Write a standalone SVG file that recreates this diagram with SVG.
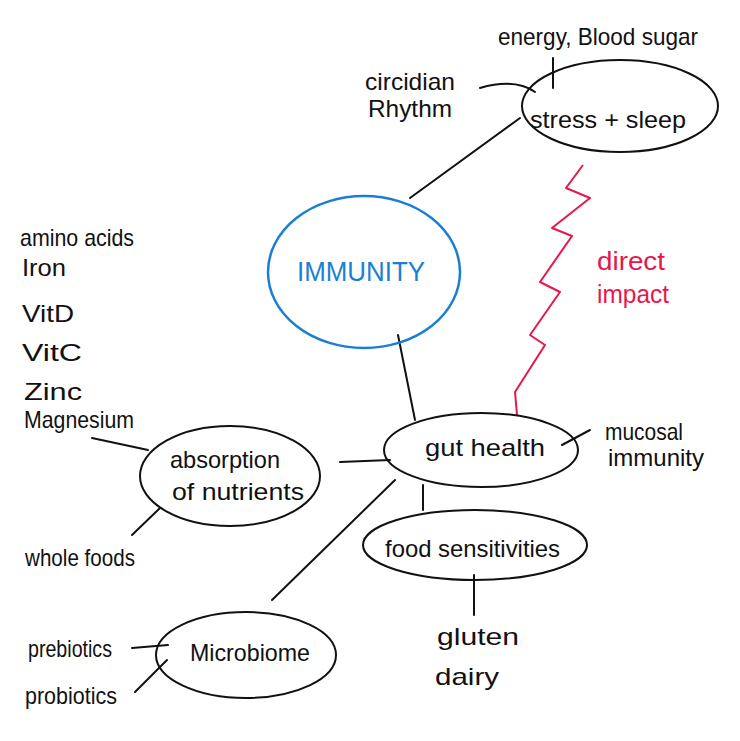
<svg xmlns="http://www.w3.org/2000/svg" width="740" height="741" viewBox="0 0 740 741">
<style>
.n{fill:none;stroke:#111;stroke-width:2;stroke-linecap:round}
.t{font-family:"Liberation Sans","DejaVu Sans",sans-serif;font-size:24px;fill:#111}
.c{fill:none;stroke:#111;stroke-width:2;stroke-linecap:round}
</style>
<rect width="740" height="741" fill="#fff"/>
<g id="connectors">
<path class="c" d="M410,198 L520,118"/>
<path class="c" d="M480,88 Q515,78 535,92"/>
<path class="c" d="M553,58 L553,88"/>
<path class="c" d="M398,335 L415,420"/>
<path class="c" d="M340,462 L390,460"/>
<path class="c" d="M423,485 L423,510"/>
<path class="c" d="M272,600 L395,480"/>
<path class="c" d="M562,445 L590,430"/>
<path class="c" d="M92,438 L148,450"/>
<path class="c" d="M132,535 L160,508"/>
<path class="c" d="M474,575 L474,615"/>
<path class="c" d="M132,648 L168,645"/>
<path class="c" d="M135,692 L167,660"/>
<path d="M583,165 L566,188 L590,198 L552,228 L572,236 L540,282 L560,292 L530,335 L545,345 L515,392 L517,415" fill="none" stroke="#e8174a" stroke-width="2" stroke-linejoin="round"/>
<text x="597" y="270" font-family="Liberation Sans,sans-serif" font-size="26" fill="#e8174a" textLength="68" lengthAdjust="spacingAndGlyphs">direct</text>
<text x="597" y="303" font-family="Liberation Sans,sans-serif" font-size="26" fill="#e8174a" textLength="72" lengthAdjust="spacingAndGlyphs">impact</text>
</g>
<g id="immunity">
<ellipse cx="364" cy="272" rx="96" ry="76" fill="none" stroke="#1a7fd4" stroke-width="2.5"/>
<text x="297" y="281" font-family="Liberation Sans,sans-serif" font-size="28" fill="#1a7fd4" textLength="128" lengthAdjust="spacingAndGlyphs">IMMUNITY</text>
</g>
<g id="stress-sleep">
<ellipse class="n" cx="620" cy="106" rx="98" ry="46"/>
<text class="t" x="530" y="128" font-size="28" textLength="156" lengthAdjust="spacingAndGlyphs">stress + sleep</text>
</g>
<g id="energy">
<text class="t" x="498" y="45" textLength="200" lengthAdjust="spacingAndGlyphs">energy, Blood sugar</text>
</g>
<g id="circadian">
<text class="t" x="365" y="90" textLength="90" lengthAdjust="spacingAndGlyphs">circidian</text>
<text class="t" x="368" y="117" textLength="84" lengthAdjust="spacingAndGlyphs">Rhythm</text>
</g>
<g id="gut-health">
<ellipse class="n" cx="481" cy="450" rx="97" ry="37"/>
<text class="t" x="425" y="456" font-size="26" textLength="120" lengthAdjust="spacingAndGlyphs">gut health</text>
</g>
<g id="mucosal">
<text class="t" x="605" y="440" textLength="78" lengthAdjust="spacingAndGlyphs">mucosal</text>
<text class="t" x="608" y="466" textLength="96" lengthAdjust="spacingAndGlyphs">immunity</text>
</g>
<g id="absorption">
<ellipse class="n" cx="230" cy="476" rx="90" ry="50"/>
<text class="t" x="170" y="468" textLength="110" lengthAdjust="spacingAndGlyphs">absorption</text>
<text class="t" x="172" y="500" textLength="132" lengthAdjust="spacingAndGlyphs">of nutrients</text>
</g>
<g id="nutrients">
<text class="t" x="20" y="246" textLength="114" lengthAdjust="spacingAndGlyphs">amino acids</text>
<text class="t" x="22" y="276" textLength="44" lengthAdjust="spacingAndGlyphs">Iron</text>
<text class="t" x="22" y="322" font-size="28" textLength="52" lengthAdjust="spacingAndGlyphs">VitD</text>
<text class="t" x="22" y="361" font-size="28" textLength="60" lengthAdjust="spacingAndGlyphs">VitC</text>
<text class="t" x="24" y="400" font-size="28" textLength="58" lengthAdjust="spacingAndGlyphs">Zinc</text>
<text class="t" x="24" y="428" font-size="26" textLength="110" lengthAdjust="spacingAndGlyphs">Magnesium</text>
</g>
<g id="whole-foods">
<text class="t" x="25" y="566" textLength="110" lengthAdjust="spacingAndGlyphs">whole foods</text>
</g>
<g id="food-sensitivities">
<ellipse class="n" cx="475" cy="545" rx="112" ry="35"/>
<text class="t" x="385" y="557" font-size="26" textLength="175" lengthAdjust="spacingAndGlyphs">food sensitivities</text>
</g>
<g id="gluten-dairy">
<text class="t" x="437" y="645" font-size="28" textLength="82" lengthAdjust="spacingAndGlyphs">gluten</text>
<text class="t" x="435" y="685" font-size="28" textLength="64" lengthAdjust="spacingAndGlyphs">dairy</text>
</g>
<g id="microbiome">
<ellipse class="n" cx="246" cy="655" rx="90" ry="43"/>
<text class="t" x="190" y="661" font-size="26" textLength="120" lengthAdjust="spacingAndGlyphs">Microbiome</text>
</g>
<g id="prebiotics">
<text class="t" x="28" y="657" textLength="84" lengthAdjust="spacingAndGlyphs">prebiotics</text>
</g>
<g id="probiotics">
<text class="t" x="25" y="704" textLength="92" lengthAdjust="spacingAndGlyphs">probiotics</text>
</g>
</svg>
